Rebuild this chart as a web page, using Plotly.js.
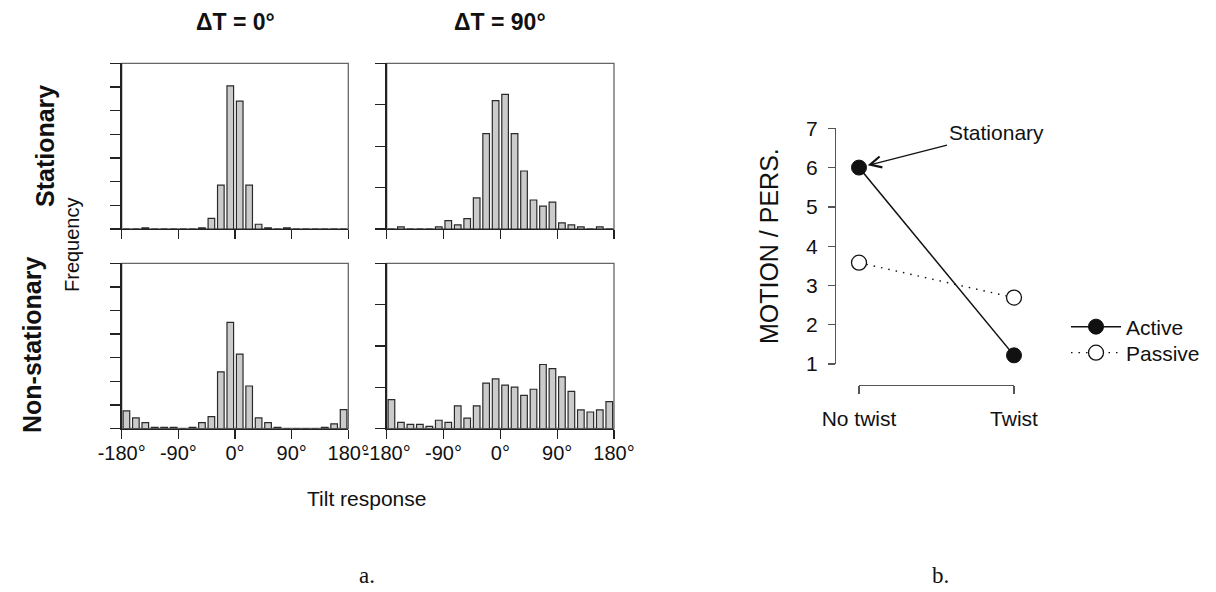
<!DOCTYPE html>
<html><head><meta charset="utf-8">
<script src="https://cdn.plot.ly/plotly-3.0.1.min.js"></script>
<style>html,body{margin:0;padding:0;background:#fff}</style>
</head><body><div id="chart" style="width:1216px;height:592px"></div>
<script>
// ---- data ----
const binCenters = [-172.5,-157.5,-142.5,-127.5,-112.5,-97.5,-82.5,-67.5,-52.5,-37.5,-22.5,-7.5,
                    7.5,22.5,37.5,52.5,67.5,82.5,97.5,112.5,127.5,142.5,157.5,172.5];
const stationaryDT0    = [0,0,1,0,0,0,0,0,1,9,37,121,108,37,4,1,0,1,0,0,0,0,0,0];
const stationaryDT90   = [0,1,0,0,0,1,4,2,5,15,46,62,65,46,28,14,11,13,3,2,1,0,1,0];
const nonStationaryDT0 = [15,9,5,1,1,1,0,1,5,10,48,90,63,36,9,5,1,0,0,0,0,1,4,16];
const nonStationaryDT90= [14,3,2,2,1,4,3,11,5,11,22,24,21,20,16,19,31,29,25,18,9,8,9,13];
const tiltTickVals = [-180,-90,0,90,180];
const tiltTickText = ['-180°','-90°','0°','90°','180°'];
const conditions = ['No twist','Twist'];
const activeVals  = [6.0, 1.22];
const passiveVals = [3.58, 2.69];
const ratioTicks = [1,2,3,4,5,6,7];

// ---- layout helpers ----
const W = 1216, H = 592;
const px = v => v / W;
const py = v => 1 - v / H;
const FONT = 'Liberation Sans, Arial, Helvetica, sans-serif';

const panels = [
  {data: stationaryDT0,     ymax: 140, xd: [121.7, 348.3], yd: [63.3, 229.0], labels: false},
  {data: stationaryDT90,    ymax: 80,  xd: [386.7, 614.0], yd: [63.3, 229.0], labels: false},
  {data: nonStationaryDT0,  ymax: 140, xd: [121.7, 348.3], yd: [263.3, 428.5], labels: true},
  {data: nonStationaryDT90, ymax: 80,  xd: [386.7, 614.0], yd: [263.3, 428.5], labels: true}
];

const traces = [];
const layout = {
  width: W, height: H, autosize: false,
  margin: {l: 0, r: 0, t: 0, b: 0},
  paper_bgcolor: '#fff', plot_bgcolor: 'rgba(0,0,0,0)',
  font: {family: FONT, color: '#111', size: 20},
  showlegend: true,
  bargap: 0,
  shapes: [], annotations: []
};

panels.forEach((p, i) => {
  const n = i + 1;
  const xk = n === 1 ? 'x' : 'x' + n, yk = n === 1 ? 'y' : 'y' + n;
  const xa = n === 1 ? 'xaxis' : 'xaxis' + n, ya = n === 1 ? 'yaxis' : 'yaxis' + n;
  traces.push({
    type: 'bar', x: binCenters, y: p.data, xaxis: xk, yaxis: yk,
    width: 10.5, showlegend: false, hoverinfo: 'skip',
    marker: {color: '#cbcbcb', line: {color: '#2a2a2a', width: 1.2}}
  });
  layout[xa] = {
    domain: [px(p.xd[0]), px(p.xd[1])], anchor: yk, range: [-180, 180],
    showgrid: false, zeroline: false, showline: true, linecolor: '#222', linewidth: 1.3,
    ticks: 'outside', ticklen: 9, tickwidth: 1.3, tickcolor: '#222',
    tickmode: 'array', tickvals: tiltTickVals, ticktext: tiltTickText,
    showticklabels: p.labels, tickangle: 0, ticklabelstandoff: -3,
    tickfont: {size: 20, family: FONT, color: '#111'}, fixedrange: true
  };
  layout[ya] = {
    domain: [py(p.yd[1]), py(p.yd[0])], anchor: xk, range: [0, p.ymax],
    showgrid: false, zeroline: false, showline: true, linecolor: '#222', linewidth: 1.3,
    ticks: 'outside', ticklen: 10, tickwidth: 1.3, tickcolor: '#222',
    tickmode: 'linear', tick0: 0, dtick: 20, showticklabels: false, fixedrange: true
  };
  layout.shapes.push({
    type: 'rect', xref: xk + ' domain', yref: yk + ' domain', x0: 0, x1: 1, y0: 0, y1: 1,
    line: {color: '#666', width: 1.3}, fillcolor: 'rgba(0,0,0,0)', layer: 'below'
  });
});

// ---- right chart ----
traces.push({
  type: 'scatter', mode: 'lines+markers', name: 'Passive', legend: 'legend2',
  x: conditions, y: passiveVals, xaxis: 'x5', yaxis: 'y5', cliponaxis: false,
  line: {color: '#111', width: 1.4, dash: '1.5px,6px'},
  marker: {symbol: 'circle', size: 15, color: '#fff', line: {color: '#111', width: 1.3}}
});
traces.push({
  type: 'scatter', mode: 'lines+markers', name: 'Active', legend: 'legend',
  x: conditions, y: activeVals, xaxis: 'x5', yaxis: 'y5', cliponaxis: false,
  line: {color: '#111', width: 1.5},
  marker: {symbol: 'circle', size: 15, color: '#111', line: {color: '#111', width: 1}}
});

layout.xaxis5 = {
  domain: [px(859), px(1014)], anchor: 'free', position: py(385), type: 'category',
  range: [0, 1], showgrid: false, zeroline: false, showline: true, linecolor: '#555', linewidth: 1.3,
  ticks: 'outside', ticklen: 8, tickwidth: 1.3, tickcolor: '#555', ticklabelstandoff: 6,
  tickfont: {size: 21, family: FONT, color: '#111'}, fixedrange: true
};
layout.yaxis5 = {
  domain: [py(364), py(128.3)], anchor: 'free', position: px(835), range: [1, 7],
  showgrid: false, zeroline: false, showline: true, linecolor: '#555', linewidth: 1.3,
  ticks: 'outside', ticklen: 7, tickwidth: 1.3, tickcolor: '#555', ticklabelstandoff: 6,
  tickmode: 'array', tickvals: ratioTicks, tickfont: {size: 21, family: FONT, color: '#111'},
  title: {text: 'MOTION / PERS.', font: {size: 25, family: FONT, color: '#111'}, standoff: 19},
  fixedrange: true
};

const legendBase = {
  xanchor: 'left', yanchor: 'middle', itemwidth: 50,
  font: {size: 21, family: FONT, color: '#111'}, bgcolor: 'rgba(0,0,0,0)', borderwidth: 0
};
layout.legend  = Object.assign({x: px(1066), y: py(327)}, legendBase);
layout.legend2 = Object.assign({x: px(1066), y: py(353)}, legendBase);

// ---- text annotations ----
const A = layout.annotations;
const C = {xref: 'paper', yref: 'paper', showarrow: false, xanchor: 'center', yanchor: 'middle'};
A.push({x: 'No twist', y: 6, xref: 'x5', yref: 'y5', text: 'Stationary',
  showarrow: true, ax: 137, ay: -35, arrowhead: 5, arrowsize: 1.7, arrowwidth: 1.3,
  arrowcolor: '#111', standoff: 9, font: {size: 21, family: FONT, color: '#111'}});
A.push(Object.assign({x: px(235), y: py(22), text: '<b>ΔT = 0°</b>',
  font: {size: 23, family: FONT, color: '#111'}}, C));
A.push(Object.assign({x: px(500), y: py(22), text: '<b>ΔT = 90°</b>',
  font: {size: 23, family: FONT, color: '#111'}}, C));
A.push(Object.assign({x: px(45), y: py(146), text: '<b>Stationary</b>', textangle: -90,
  font: {size: 25, family: FONT, color: '#111'}}, C));
A.push(Object.assign({x: px(32), y: py(345), text: '<b>Non-stationary</b>', textangle: -90,
  font: {size: 25, family: FONT, color: '#111'}}, C));
A.push(Object.assign({x: px(72), y: py(245), text: 'Frequency', textangle: -90,
  font: {size: 20, family: FONT, color: '#111'}}, C));
A.push(Object.assign({x: px(367), y: py(498), text: 'Tilt response',
  font: {size: 21, family: FONT, color: '#111'}}, C));
A.push(Object.assign({x: px(367), y: py(575), text: 'a.',
  font: {size: 23, family: 'Liberation Serif, DejaVu Serif, serif', color: '#111'}}, C));
A.push(Object.assign({x: px(940), y: py(575), text: 'b.',
  font: {size: 23, family: 'Liberation Serif, DejaVu Serif, serif', color: '#111'}}, C));

Plotly.newPlot('chart', traces, layout, {displayModeBar: false, staticPlot: true});
</script>
</body></html>
